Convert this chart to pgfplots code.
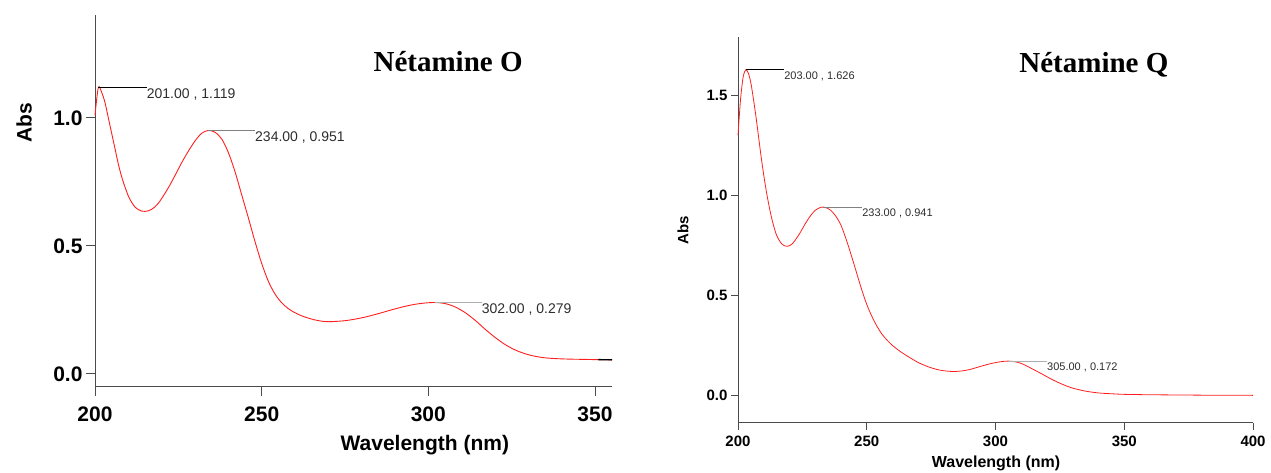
\documentclass[border=0pt]{standalone}
\usepackage{pgfplots}
\pgfplotsset{compat=1.18}
\usepackage{fontspec}
\setmainfont{Liberation Sans}
\newfontfamily\titlefont{Liberation Serif}
\definecolor{curve}{RGB}{255,30,30}
\definecolor{axgray}{RGB}{75,75,75}
\definecolor{anntext}{RGB}{45,45,45}
\definecolor{lgray}{RGB}{175,175,175}
\begin{document}
\begin{tikzpicture}[x=1pt,y=1pt]
\useasboundingbox (0,0) rectangle (1271,473);
% ---------------- Left panel ----------------
\begin{axis}[at={(95pt,86pt)}, anchor=south west, scale only axis,
  width=517pt, height=372pt,
  xmin=200, xmax=355.1, ymin=-0.051, ymax=1.402,
  axis lines=left, axis line style={-, axgray, line width=1pt},
  xtick={200,250,300,350}, xticklabels={200,250,300,350},
  ytick={0,0.5,1}, yticklabels={0.0,0.5,1.0},
  tick align=outside, major tick length=9pt,
  tick style={axgray, line width=1pt},
  every tick label/.style={font=\fontsize{21}{24}\selectfont\bfseries},
  xticklabel style={yshift=-7pt},
  clip=false]
\addplot[curve, line width=0.9pt, smooth] coordinates {
(200,1.01)(201,1.119)(202,1.10)(203,1.06)(204,1.00)(205,0.94)(206,0.88)(207,0.82)(208,0.77)(209,0.73)(210,0.695)
(211,0.67)(212,0.652)(213,0.642)(214,0.636)(215,0.635)(216,0.637)(217,0.643)(218,0.653)(219,0.667)(220,0.685)
(222,0.727)(224,0.775)(226,0.825)(228,0.87)(230,0.91)(232,0.940)(234,0.951)(236,0.944)(238,0.918)(240,0.865)
(242,0.79)(244,0.70)(246,0.61)(248,0.517)(250,0.432)(252,0.362)(254,0.312)(256,0.278)(258,0.255)(260,0.239)
(262,0.227)(264,0.218)(266,0.211)(268,0.206)(270,0.204)(272,0.205)(275,0.208)(278,0.214)(281,0.222)(284,0.232)
(287,0.243)(290,0.254)(293,0.264)(296,0.272)(299,0.277)(302,0.279)(305,0.275)(308,0.262)(311,0.24)(314,0.21)
(317,0.175)(320,0.143)(323,0.115)(326,0.094)(329,0.079)(332,0.069)(335,0.063)(338,0.060)(342,0.058)(346,0.057)
(350,0.056)(355.1,0.055)};
\draw[black, line width=1.3pt] (axis cs:351,0.056) -- (axis cs:355.1,0.055);
\draw[black, line width=1pt] (axis cs:201,1.119) -- (axis cs:215.5,1.119);
\node[anchor=north west, inner sep=0pt, yshift=-1.5pt, text=anntext, font=\fontsize{14}{16}\selectfont] at (axis cs:215.5,1.119) {201.00 , 1.119};
\draw[gray, line width=1pt] (axis cs:234,0.951) -- (axis cs:248,0.951);
\node[anchor=north west, inner sep=0pt, yshift=-1.5pt, text=anntext, font=\fontsize{14}{16}\selectfont] at (axis cs:248,0.951) {234.00 , 0.951};
\draw[lgray, line width=1pt] (axis cs:302,0.279) -- (axis cs:316,0.279);
\node[anchor=north west, inner sep=0pt, yshift=-1.5pt, text=anntext, font=\fontsize{14}{16}\selectfont] at (axis cs:316,0.279) {302.00 , 0.279};
\node[font=\titlefont\fontsize{29}{32}\selectfont\bfseries] at (rel axis cs:0.683,0.876) {Nétamine O};
\node[font=\fontsize{21}{24}\selectfont\bfseries, yshift=-58pt] at (rel axis cs:0.638,0) {Wavelength (nm)};
\node[font=\fontsize{21}{24}\selectfont\bfseries, rotate=90] at ([xshift=-71pt]rel axis cs:0,0.71) {Abs};
\end{axis}
% ---------------- Right panel ----------------
\begin{axis}[at={(738pt,50pt)}, anchor=south west, scale only axis,
  width=515pt, height=386pt,
  xmin=200, xmax=400, ymin=-0.137, ymax=1.79,
  axis lines=left, axis line style={-, axgray, line width=1pt},
  xtick={200,250,300,350,400}, xticklabels={200,250,300,350,400},
  ytick={0,0.5,1,1.5}, yticklabels={0.0,0.5,1.0,1.5},
  tick align=outside, major tick length=7pt,
  tick style={axgray, line width=1pt},
  every tick label/.style={font=\fontsize{15}{18}\selectfont\bfseries},
  xticklabel style={yshift=-2pt},
  clip=false]
\addplot[curve, line width=0.8pt, smooth] coordinates {
(200,1.30)(201,1.48)(202,1.59)(203,1.626)(204,1.61)(205,1.56)(206,1.48)(207,1.39)(208,1.29)(209,1.19)
(210,1.10)(211,1.02)(212,0.95)(213,0.89)(214,0.84)(215,0.80)(216,0.775)(217,0.757)(218,0.748)(219,0.745)
(220,0.748)(221,0.757)(222,0.772)(224,0.81)(226,0.855)(228,0.895)(230,0.925)(232,0.939)(233,0.941)(234,0.939)
(236,0.925)(238,0.895)(240,0.85)(242,0.78)(244,0.70)(246,0.615)(248,0.53)(250,0.455)(252,0.395)(254,0.345)
(256,0.305)(258,0.275)(260,0.25)(263,0.22)(266,0.195)(270,0.165)(274,0.143)(278,0.128)(282,0.121)(284,0.120)
(287,0.123)(290,0.130)(294,0.145)(298,0.159)(302,0.169)(305,0.172)(308,0.168)(311,0.155)(314,0.135)(318,0.108)
(322,0.080)(326,0.056)(330,0.037)(335,0.022)(340,0.013)(345,0.009)(350,0.006)(360,0.004)(370,0.003)(380,0.002)(400,0.001)};
\draw[black, line width=0.9pt] (axis cs:203,1.626) -- (axis cs:217.9,1.626);
\node[anchor=north west, inner sep=0pt, yshift=-1.5pt, text=anntext, font=\fontsize{11}{13}\selectfont] at (axis cs:217.9,1.626) {203.00 , 1.626};
\draw[gray, line width=0.9pt] (axis cs:233,0.941) -- (axis cs:248.2,0.941);
\node[anchor=north west, inner sep=0pt, yshift=-1.5pt, text=anntext, font=\fontsize{11}{13}\selectfont] at (axis cs:248.2,0.941) {233.00 , 0.941};
\draw[lgray, line width=0.9pt] (axis cs:305,0.172) -- (axis cs:320,0.172);
\node[anchor=north west, inner sep=0pt, yshift=-1.5pt, text=anntext, font=\fontsize{11}{13}\selectfont] at (axis cs:320,0.172) {305.00 , 0.172};
\node[font=\titlefont\fontsize{29}{32}\selectfont\bfseries] at (rel axis cs:0.691,0.927) {Nétamine Q};
\node[font=\fontsize{16}{19}\selectfont\bfseries, yshift=-40pt] at (rel axis cs:0.501,0) {Wavelength (nm)};
\node[font=\fontsize{15}{18}\selectfont\bfseries, rotate=90] at ([xshift=-55pt]rel axis cs:0,0.5) {Abs};
\end{axis}
\end{tikzpicture}
\end{document}
